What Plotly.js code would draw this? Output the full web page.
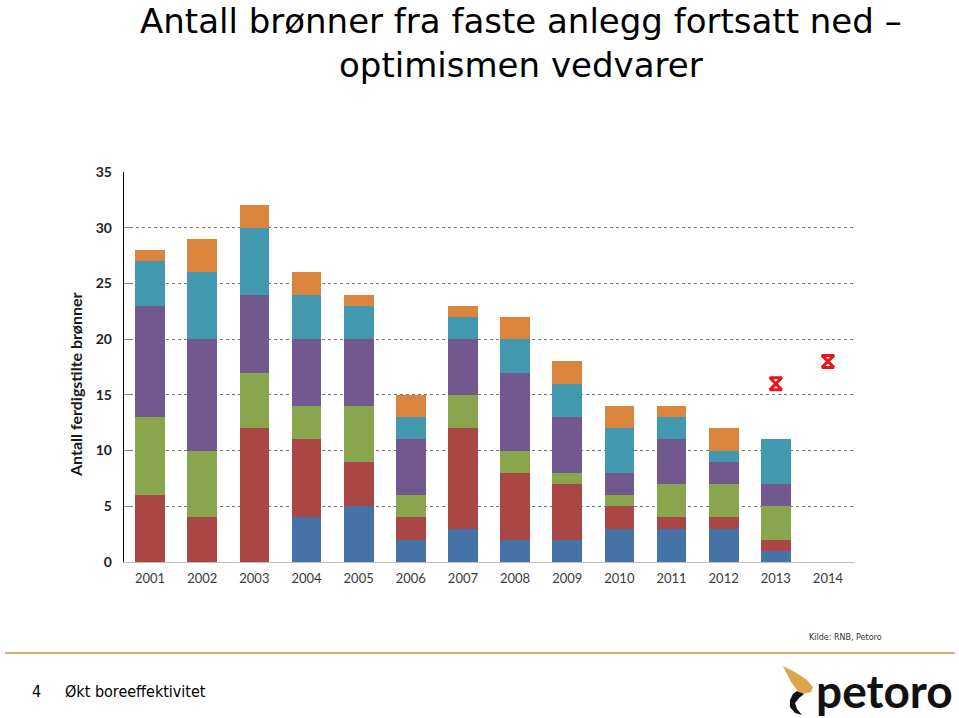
<!DOCTYPE html>
<html>
<head>
<meta charset="utf-8">
<script src="https://cdn.plot.ly/plotly-3.0.1.min.js"></script>
<style>html,body{margin:0;padding:0;background:#fff;}#chart{width:959px;height:718px;}</style>
</head>
<body>
<div id="chart"></div>
<script>
const categories = ['2001','2002','2003','2004','2005','2006','2007','2008','2009','2010','2011','2012','2013','2014'];
const serieBlue   = [0, 0, 0, 4, 5, 2, 3, 2, 2, 3, 3, 3, 1, null];
const serieRed    = [6, 4, 12, 7, 4, 2, 9, 6, 5, 2, 1, 1, 1, null];
const serieGreen  = [7, 6, 5, 3, 5, 2, 3, 2, 1, 1, 3, 3, 3, null];
const seriePurple = [10, 10, 7, 6, 6, 5, 5, 7, 5, 2, 4, 2, 2, null];
const serieTeal   = [4, 6, 6, 4, 3, 2, 2, 3, 3, 4, 2, 1, 4, null];
const serieOrange = [1, 3, 2, 2, 1, 2, 1, 2, 2, 2, 1, 2, 0, null];
const forecastCats = ['2013', '2014'];
const forecastVals = [16, 18];
const yTicks = [0, 5, 10, 15, 20, 25, 30, 35];
const gridTicks = [5, 10, 15, 20, 25, 30];

const W = 959, H = 718;
const L = 124, R = 854, T = 172, B = 562;
const px = x => (x - L) / (R - L);
const py = y => (B - y) / (B - T);

const colors = ['#4572A7', '#AA4643', '#89A54E', '#71588F', '#4198AF', '#DB843D'];
const seriesList = [serieBlue, serieRed, serieGreen, seriePurple, serieTeal, serieOrange];
const names = ['Serie 1', 'Serie 2', 'Serie 3', 'Serie 4', 'Serie 5', 'Serie 6'];

const traces = seriesList.map((vals, i) => ({
  type: 'bar', x: categories, y: vals, name: names[i],
  marker: {color: colors[i], line: {width: 0}},
  hoverinfo: 'x+y'
}));
traces.push({
  type: 'scatter', mode: 'markers', x: forecastCats, y: forecastVals, name: 'Prognose',
  yaxis: 'y2',
  marker: {symbol: 'hourglass-open', size: 12, color: '#E8141C', line: {width: 3, color: '#E8141C'}}
});

function pathFrom(points) {
  return points.map((p, i) => (i ? 'L' : 'M') + px(p[0]).toFixed(4) + ',' + py(p[1]).toFixed(4)).join(' ') + ' Z';
}

const goldFlame = [[783,666],[795,672],[807,680],[813,687],[811,692],[803,694],[797,690],[791,682],[787,674]];
const blackSwoosh = [[797,691],[804,694],[799,698],[795,703],[797,709],[802,715],[795,713],[790,707],[790,700],[793,694]];

const titleFont = {family: 'DejaVu Sans, sans-serif', size: 34, color: '#000000'};

const layout = {
  width: W, height: H,
  margin: {l: L, r: W - R, t: T, b: H - B, pad: 0},
  paper_bgcolor: '#ffffff', plot_bgcolor: '#ffffff',
  barmode: 'stack', bargap: 0.43, showlegend: false,
  font: {family: 'Lato, sans-serif', color: '#333333'},
  xaxis: {
    type: 'category', categoryorder: 'array', categoryarray: categories,
    range: [-0.5, categories.length - 0.5],
    showline: true, linecolor: '#BFBFBF', linewidth: 1,
    showgrid: false, zeroline: false, ticks: '',
    tickfont: {family: 'Lato, sans-serif', size: 13, color: '#3a3a3a'},
    ticklabelstandoff: 4
  },
  yaxis: {
    range: [0, 35], tickvals: yTicks, showgrid: false, zeroline: false,
    showline: true, linecolor: '#000000', linewidth: 1.3,
    ticks: 'inside', ticklen: 6, tickcolor: '#8a8a8a', tickwidth: 1,
    tickfont: {family: 'Lato, sans-serif', size: 14, color: '#222222', weight: 'bold'},
    ticklabelstandoff: 8
  },
  yaxis2: {
    overlaying: 'y', side: 'left', range: [0, 35], tickvals: gridTicks, showticklabels: false,
    showgrid: true, gridcolor: '#7a7a7a', griddash: 'dot', gridwidth: 1,
    zeroline: false, showline: false, ticks: ''
  },
  annotations: [
    {xref: 'paper', yref: 'paper', x: px(521), y: py(0), xanchor: 'center', yanchor: 'top',
     text: 'Antall brønner fra faste anlegg fortsatt ned –<br>optimismen vedvarer',
     showarrow: false, font: titleFont, borderpad: 0},
    {xref: 'paper', yref: 'paper', x: px(75), y: py(385), xanchor: 'center', yanchor: 'middle',
     text: '<b>Antall ferdigstilte brønner</b>', textangle: -90, showarrow: false,
     font: {family: 'Lato, sans-serif', size: 16, color: '#1a1a1a'}},
    {xref: 'paper', yref: 'paper', x: px(884), y: py(637), xanchor: 'right', yanchor: 'middle',
     text: 'Kilde: RNB, Petoro', showarrow: false,
     font: {family: 'DejaVu Sans, sans-serif', size: 8, color: '#333333'}},
    {xref: 'paper', yref: 'paper', x: px(30), y: py(691), xanchor: 'left', yanchor: 'middle',
     text: '4', showarrow: false,
     font: {family: 'DejaVu Sans Condensed, DejaVu Sans, sans-serif', size: 16, color: '#000000'}},
    {xref: 'paper', yref: 'paper', x: px(63), y: py(691), xanchor: 'left', yanchor: 'middle',
     text: 'Økt boreeffektivitet', showarrow: false,
     font: {family: 'DejaVu Sans Condensed, DejaVu Sans, sans-serif', size: 16, color: '#000000'}},
    {xref: 'paper', yref: 'paper', x: px(814), y: py(690), xanchor: 'left', yanchor: 'middle',
     text: '<b>petoro</b>', showarrow: false,
     font: {family: 'Lato, sans-serif', size: 46, color: '#111111'}}
  ],
  shapes: [
    {type: 'line', xref: 'paper', yref: 'paper', x0: px(5), x1: px(955), y0: py(653), y1: py(653),
     line: {color: '#D3B06F', width: 2}},
    {type: 'path', xref: 'paper', yref: 'paper', path: pathFrom(goldFlame),
     fillcolor: '#DBA64A', line: {width: 0}},
    {type: 'path', xref: 'paper', yref: 'paper', path: pathFrom(blackSwoosh),
     fillcolor: '#111111', line: {width: 0}}
  ]
};

Plotly.newPlot('chart', traces, layout, {displayModeBar: false, staticPlot: true});
</script>
</body>
</html>
